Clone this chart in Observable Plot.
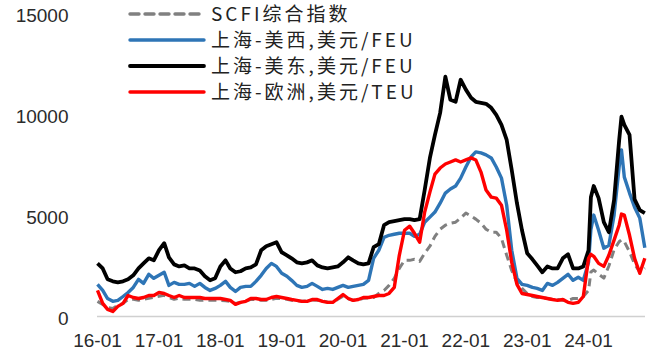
<!DOCTYPE html>
<html>
<head>
<meta charset="utf-8">
<script src="https://cdn.jsdelivr.net/npm/d3@7"></script>
<script src="https://cdn.jsdelivr.net/npm/@observablehq/plot@0.6"></script>
<style>
  html, body { margin: 0; padding: 0; background: #fff; }
  #wrap { position: relative; width: 656px; height: 361px; }
  #legend { position: absolute; left: 0; top: 0; pointer-events: none; }
</style>
</head>
<body>
<div id="wrap"></div>
<script>
// ---------- data ----------
const dates = [
  "2016-01-01","2016-02-01","2016-03-01","2016-04-01","2016-05-01","2016-06-01","2016-07-01","2016-08-01","2016-09-01","2016-10-01","2016-11-01","2016-12-01",
  "2017-01-01","2017-02-01","2017-03-01","2017-04-01","2017-05-01","2017-06-01","2017-07-01","2017-08-01","2017-09-01","2017-10-01","2017-11-01","2017-12-01",
  "2018-01-01","2018-02-01","2018-03-01","2018-04-01","2018-05-01","2018-06-01","2018-07-01","2018-08-01","2018-09-01","2018-10-01","2018-11-01","2018-12-01",
  "2019-01-01","2019-02-01","2019-03-01","2019-04-01","2019-05-01","2019-06-01","2019-07-01","2019-08-01","2019-09-01","2019-10-01","2019-11-01","2019-12-01",
  "2020-01-01","2020-02-01","2020-03-01","2020-04-01","2020-05-01","2020-06-01","2020-07-01","2020-08-01","2020-09-01","2020-10-01","2020-11-01","2020-12-01",
  "2021-01-01","2021-02-01","2021-03-01","2021-04-01","2021-05-01","2021-06-01","2021-07-01","2021-08-01","2021-09-01","2021-10-01","2021-11-01","2021-12-01",
  "2022-01-01","2022-02-01","2022-03-01","2022-04-01","2022-05-01","2022-06-01","2022-07-01","2022-08-01","2022-09-01","2022-10-01","2022-11-01","2022-12-01",
  "2023-01-01","2023-02-01","2023-03-01","2023-04-01","2023-05-01","2023-06-01","2023-07-01","2023-08-01","2023-09-01","2023-10-01","2023-11-01","2023-12-01",
  "2024-01-01","2024-01-15","2024-02-01","2024-03-01","2024-04-01","2024-05-01","2024-06-01","2024-07-01","2024-07-15","2024-08-01","2024-09-01","2024-10-01","2024-11-01","2024-12-01"
];

const scfi = [
  750, 600, 450, 400, 550, 650, 850, 850, 800, 850, 900, 950,
  1000, 1050, 950, 850, 900, 850, 850, 850, 800, 800, 800, 800,
  800, 780, 750, 650, 700, 750, 850, 830, 800, 800, 850, 900,
  880, 850, 800, 780, 750, 780, 820, 800, 760, 720, 700, 850,
  1000, 880, 800, 830, 900, 920, 940, 1140, 1290, 1540, 1890, 2380,
  2780, 2780, 2830, 2730, 3130, 3480, 3970, 4320, 4520, 4620, 4670, 4870,
  5120, 4970, 4820, 4620, 4320, 4170, 4170, 3870, 3030, 2280, 1690, 1390,
  1140, 990, 940, 940, 890, 840, 840, 800, 800, 890, 890, 990,
  1290, 2200, 2300, 2100, 1900, 2500, 3300, 3700, 3800, 3700, 3200, 2600, 2200, 2400
];

const usWest = [
  1590, 1290, 890, 750, 800, 990, 1190, 1440, 1840, 1640, 2090, 1890,
  2040, 2190, 1540, 1690, 1590, 1590, 1640, 1490, 1640, 1440, 1290, 1390,
  1540, 1740, 1440, 1240, 1440, 1490, 1490, 1740, 2040, 2380, 2630, 2480,
  2140, 1990, 1790, 1540, 1440, 1490, 1640, 1490, 1340, 1390, 1340, 1440,
  1540, 1440, 1490, 1540, 1590, 1790, 2880, 3280, 3920, 4020, 4070, 4120,
  4120, 4120, 3970, 4070, 4670, 4920, 5170, 5610, 6110, 6310, 6460, 6850,
  7400, 7900, 8150, 8100, 8000, 7850, 7400, 6850, 5510, 3280, 1890, 1590,
  1540, 1440, 1390, 1290, 1640, 1540, 1690, 1890, 2090, 1790, 1940, 1790,
  2680, 4300, 5020, 4270, 3380, 3530, 5020, 7400, 8250, 6900, 6110, 5410, 4870, 3400
];

const usEast = [
  2630, 2380, 1840, 1740, 1690, 1740, 1840, 2040, 2380, 2630, 2880, 2780,
  3280, 3630, 2930, 2580, 2480, 2530, 2380, 2380, 2280, 1990, 1790, 1890,
  2480, 2780, 2380, 2190, 2240, 2380, 2430, 2580, 3280, 3480, 3580, 3680,
  3180, 3030, 2880, 2680, 2630, 2680, 2780, 2530, 2430, 2380, 2430, 2480,
  2680, 2930, 2780, 2630, 2580, 2630, 3430, 3580, 4520, 4670, 4720, 4770,
  4820, 4820, 4770, 4820, 6260, 7850, 8990, 10080, 11870, 10730, 10630, 11720,
  11230, 10830, 10630, 10580, 10530, 10330, 9980, 9490, 8740, 7250, 5610, 4270,
  3130, 2830, 2530, 2190, 2480, 2380, 2380, 2880, 3080, 2380, 2380, 2480,
  3280, 5900, 6460, 5860, 4670, 4170, 5760, 8700, 9890, 9490, 8990, 5800, 5270, 5120
];

const europe = [
  1290, 650, 350, 250, 500, 650, 1040, 940, 890, 940, 1040, 1040,
  1190, 1140, 1040, 940, 1040, 940, 940, 940, 940, 890, 890, 890,
  890, 840, 800, 600, 700, 750, 890, 890, 840, 840, 940, 990,
  940, 890, 840, 800, 750, 750, 840, 840, 750, 700, 700, 890,
  1090, 890, 800, 840, 940, 940, 990, 1040, 1040, 1140, 1440, 3030,
  4270, 4470, 4120, 3680, 5170, 6160, 7050, 7350, 7550, 7650, 7750, 7650,
  7750, 7850, 7750, 7150, 6260, 5910, 5860, 5510, 4270, 2680, 1590, 1140,
  1090, 1040, 990, 940, 890, 840, 800, 840, 700, 650, 700, 990,
  2880, 3080, 2980, 2630, 2480, 3030, 3780, 4520, 5070, 5020, 4020, 2880, 2140, 2880
];

const seriesNames = ["SCFI综合指数", "上海-美西,美元/FEU", "上海-美东,美元/FEU", "上海-欧洲,美元/TEU"];
const seriesColors = ["#808080", "#2e75b6", "#000000", "#ff0000"];
const yTicks = [0, 5000, 10000, 15000];
const xTickLabels = ["16-01", "17-01", "18-01", "19-01", "20-01", "21-01", "22-01", "23-01", "24-01"];

// ---------- build table ----------
const valueLists = [scfi, usWest, usEast, europe];
const rows = [];
valueLists.forEach((vals, si) => {
  vals.forEach((v, i) => rows.push({series: seriesNames[si], date: new Date(dates[i]), value: v}));
});
const tickDates = xTickLabels.map(l => new Date("20" + l.slice(0, 2) + "-" + l.slice(3) + "-01"));
const labelOf = new Map(tickDates.map((d, i) => [+d, xTickLabels[i]]));

const styles = [
  {strokeWidth: 3, strokeDasharray: "8,5"},
  {strokeWidth: 3.4},
  {strokeWidth: 3.8},
  {strokeWidth: 3.4}
];

const chart = Plot.plot({
  width: 656,
  height: 361,
  marginLeft: 97,
  marginRight: 11,
  marginTop: 13,
  marginBottom: 45,
  style: {fontFamily: "'Liberation Sans', Arial, sans-serif", fontSize: "19px", color: "#333", background: "#fff", overflow: "visible"},
  x: {type: "utc", domain: [new Date("2016-01-01"), new Date("2024-12-05")]},
  y: {domain: [0, 15000]},
  marks: [
    Plot.ruleY([0], {stroke: "#d0d0d0", strokeWidth: 1.3}),
    Plot.axisY({ticks: yTicks, tickFormat: d => String(d), tickSize: 0, tickPadding: 29, label: null, fill: "#2b2b2b", dy: 2}),
    Plot.axisX({ticks: tickDates, tickFormat: d => labelOf.get(+d), tickSize: 0, tickPadding: 17, label: null, fill: "#2b2b2b"}),
    ...seriesNames.map((name, si) =>
      Plot.line(rows.filter(r => r.series === name), {
        x: "date", y: "value",
        stroke: seriesColors[si],
        strokeLinejoin: "round",
        strokeLinecap: "butt",
        ...styles[si]
      })
    )
  ]
});

const wrap = document.getElementById("wrap");
wrap.appendChild(chart);

// ---------- legend (overlay inside plot area, top-left) ----------
const legendY = [14, 40, 66, 92];
const lg = d3.select(wrap).append("svg")
  .attr("id", "legend")
  .attr("width", 656).attr("height", 110);
seriesNames.forEach((name, i) => {
  const g = lg.append("g");
  g.append("line")
    .attr("x1", 130).attr("x2", 204)
    .attr("y1", legendY[i]).attr("y2", legendY[i])
    .attr("stroke", seriesColors[i])
    .attr("stroke-width", i === 2 ? 3.8 : 3.4)
    .attr("stroke-linecap", "round")
    .attr("stroke-dasharray", i === 0 ? "9,6" : null);
  g.append("text")
    .attr("x", 211).attr("y", legendY[i])
    .attr("dy", "0.36em")
    .attr("fill", "#222")
    .attr("font-family", "'Noto Sans CJK SC', sans-serif")
    .attr("font-size", 19)
    .attr("letter-spacing", 3)
    .text(name);
});
</script>
</body>
</html>
